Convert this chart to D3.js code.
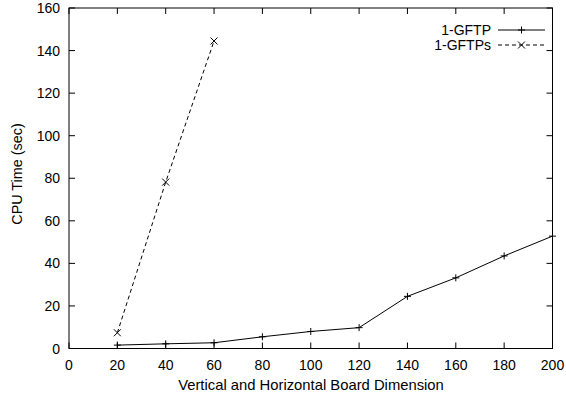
<!DOCTYPE html>
<html>
<head>
<meta charset="utf-8">
<script src="https://cdn.jsdelivr.net/npm/d3@7"></script>
<style>
body { margin: 0; background: #fff; }
text { font-family: "Liberation Sans", Arial, sans-serif; font-size: 14px; fill: #000; }
</style>
</head>
<body>
<script>
// board dimensions and cpu times
var dims = [20, 40, 60, 80, 100, 120, 140, 160, 180, 200];
var gftp = [1.6, 2.2, 2.7, 5.5, 8.0, 9.8, 24.5, 33.2, 43.5, 52.8];
var dimsS = [20, 40, 60];
var gftps = [7.4, 78.2, 144.5];
var xTicks = [0, 20, 40, 60, 80, 100, 120, 140, 160, 180, 200];
var yTicks = [0, 20, 40, 60, 80, 100, 120, 140, 160];

window.onload = draw();

function draw(){
    var width = 566, height = 400;
    var left = 69, right = 552.5, top = 8, bottom = 348.5;

    var svg = d3.select("body").append("svg")
        .attr("width", width)
        .attr("height", height);

    var x = d3.scaleLinear().domain([0, 200]).range([left, right]);
    var y = d3.scaleLinear().domain([0, 160]).range([bottom, top]);

    var tl = 6;
    //ticks, mirrored on all sides
    var g = svg.append("g").attr("stroke", "#000").attr("stroke-width", 1);
    xTicks.forEach(function(t){
        g.append("line").attr("x1", x(t)).attr("x2", x(t)).attr("y1", bottom).attr("y2", bottom - tl);
        g.append("line").attr("x1", x(t)).attr("x2", x(t)).attr("y1", top).attr("y2", top + tl);
    });
    yTicks.forEach(function(t){
        g.append("line").attr("x1", left).attr("x2", left + tl).attr("y1", y(t)).attr("y2", y(t));
        g.append("line").attr("x1", right).attr("x2", right - tl).attr("y1", y(t)).attr("y2", y(t));
    });

    //tick labels
    svg.selectAll(".xl").data(xTicks).enter().append("text")
        .attr("x", function(d){ return x(d); })
        .attr("y", bottom + 21)
        .attr("text-anchor", "middle")
        .text(function(d){ return d; });
    svg.selectAll(".yl").data(yTicks).enter().append("text")
        .attr("x", left - 9)
        .attr("y", function(d){ return y(d) + 5; })
        .attr("text-anchor", "end")
        .text(function(d){ return d; });

    //axis titles
    svg.append("text")
        .attr("x", 311)
        .attr("y", 390)
        .attr("text-anchor", "middle")
        .style("font-size", "14.8px")
        .text("Vertical and Horizontal Board Dimension");
    svg.append("text")
        .attr("transform", "translate(22,174) rotate(-90)")
        .attr("text-anchor", "middle")
        .style("font-size", "14.4px")
        .text("CPU Time (sec)");

    var line = d3.line()
        .x(function(d){ return x(d[0]); })
        .y(function(d){ return y(d[1]); });

    var s1 = d3.zip(dims, gftp);
    var s2 = d3.zip(dimsS, gftps);

    svg.append("path").datum(s1)
        .attr("d", line)
        .attr("fill", "none").attr("stroke", "#000").attr("stroke-width", 1);
    svg.append("path").datum(s2)
        .attr("d", line)
        .attr("fill", "none").attr("stroke", "#000").attr("stroke-width", 1)
        .attr("stroke-dasharray", "4,3");

    var m = 3.5;
    function plus(sel, px, py){
        sel.append("path")
            .attr("d", "M" + (px - m) + "," + py + "H" + (px + m) + "M" + px + "," + (py - m) + "V" + (py + m))
            .attr("stroke", "#000").attr("fill", "none");
    }
    function cross(sel, px, py){
        sel.append("path")
            .attr("d", "M" + (px - m) + "," + (py - m) + "L" + (px + m) + "," + (py + m) +
                       "M" + (px - m) + "," + (py + m) + "L" + (px + m) + "," + (py - m))
            .attr("stroke", "#000").attr("fill", "none");
    }
    s1.forEach(function(d){ plus(svg, x(d[0]), y(d[1])); });
    s2.forEach(function(d){ cross(svg, x(d[0]), y(d[1])); });

    //border
    svg.append("rect")
        .attr("x", left).attr("y", top)
        .attr("width", right - left).attr("height", bottom - top)
        .attr("fill", "none").attr("stroke", "#000").attr("stroke-width", 1);

    //legend
    var lx1 = 498, lx2 = 545;
    svg.append("text").attr("x", 491).attr("y", 35).attr("text-anchor", "end").text("1-GFTP");
    svg.append("line").attr("x1", lx1).attr("x2", lx2).attr("y1", 30).attr("y2", 30)
        .attr("stroke", "#000");
    plus(svg, (lx1 + lx2) / 2, 30);
    svg.append("text").attr("x", 491).attr("y", 50).attr("text-anchor", "end").text("1-GFTPs");
    svg.append("line").attr("x1", lx1).attr("x2", lx2).attr("y1", 45).attr("y2", 45)
        .attr("stroke", "#000").attr("stroke-dasharray", "4,3");
    cross(svg, (lx1 + lx2) / 2, 45);
}
</script>
</body>
</html>
